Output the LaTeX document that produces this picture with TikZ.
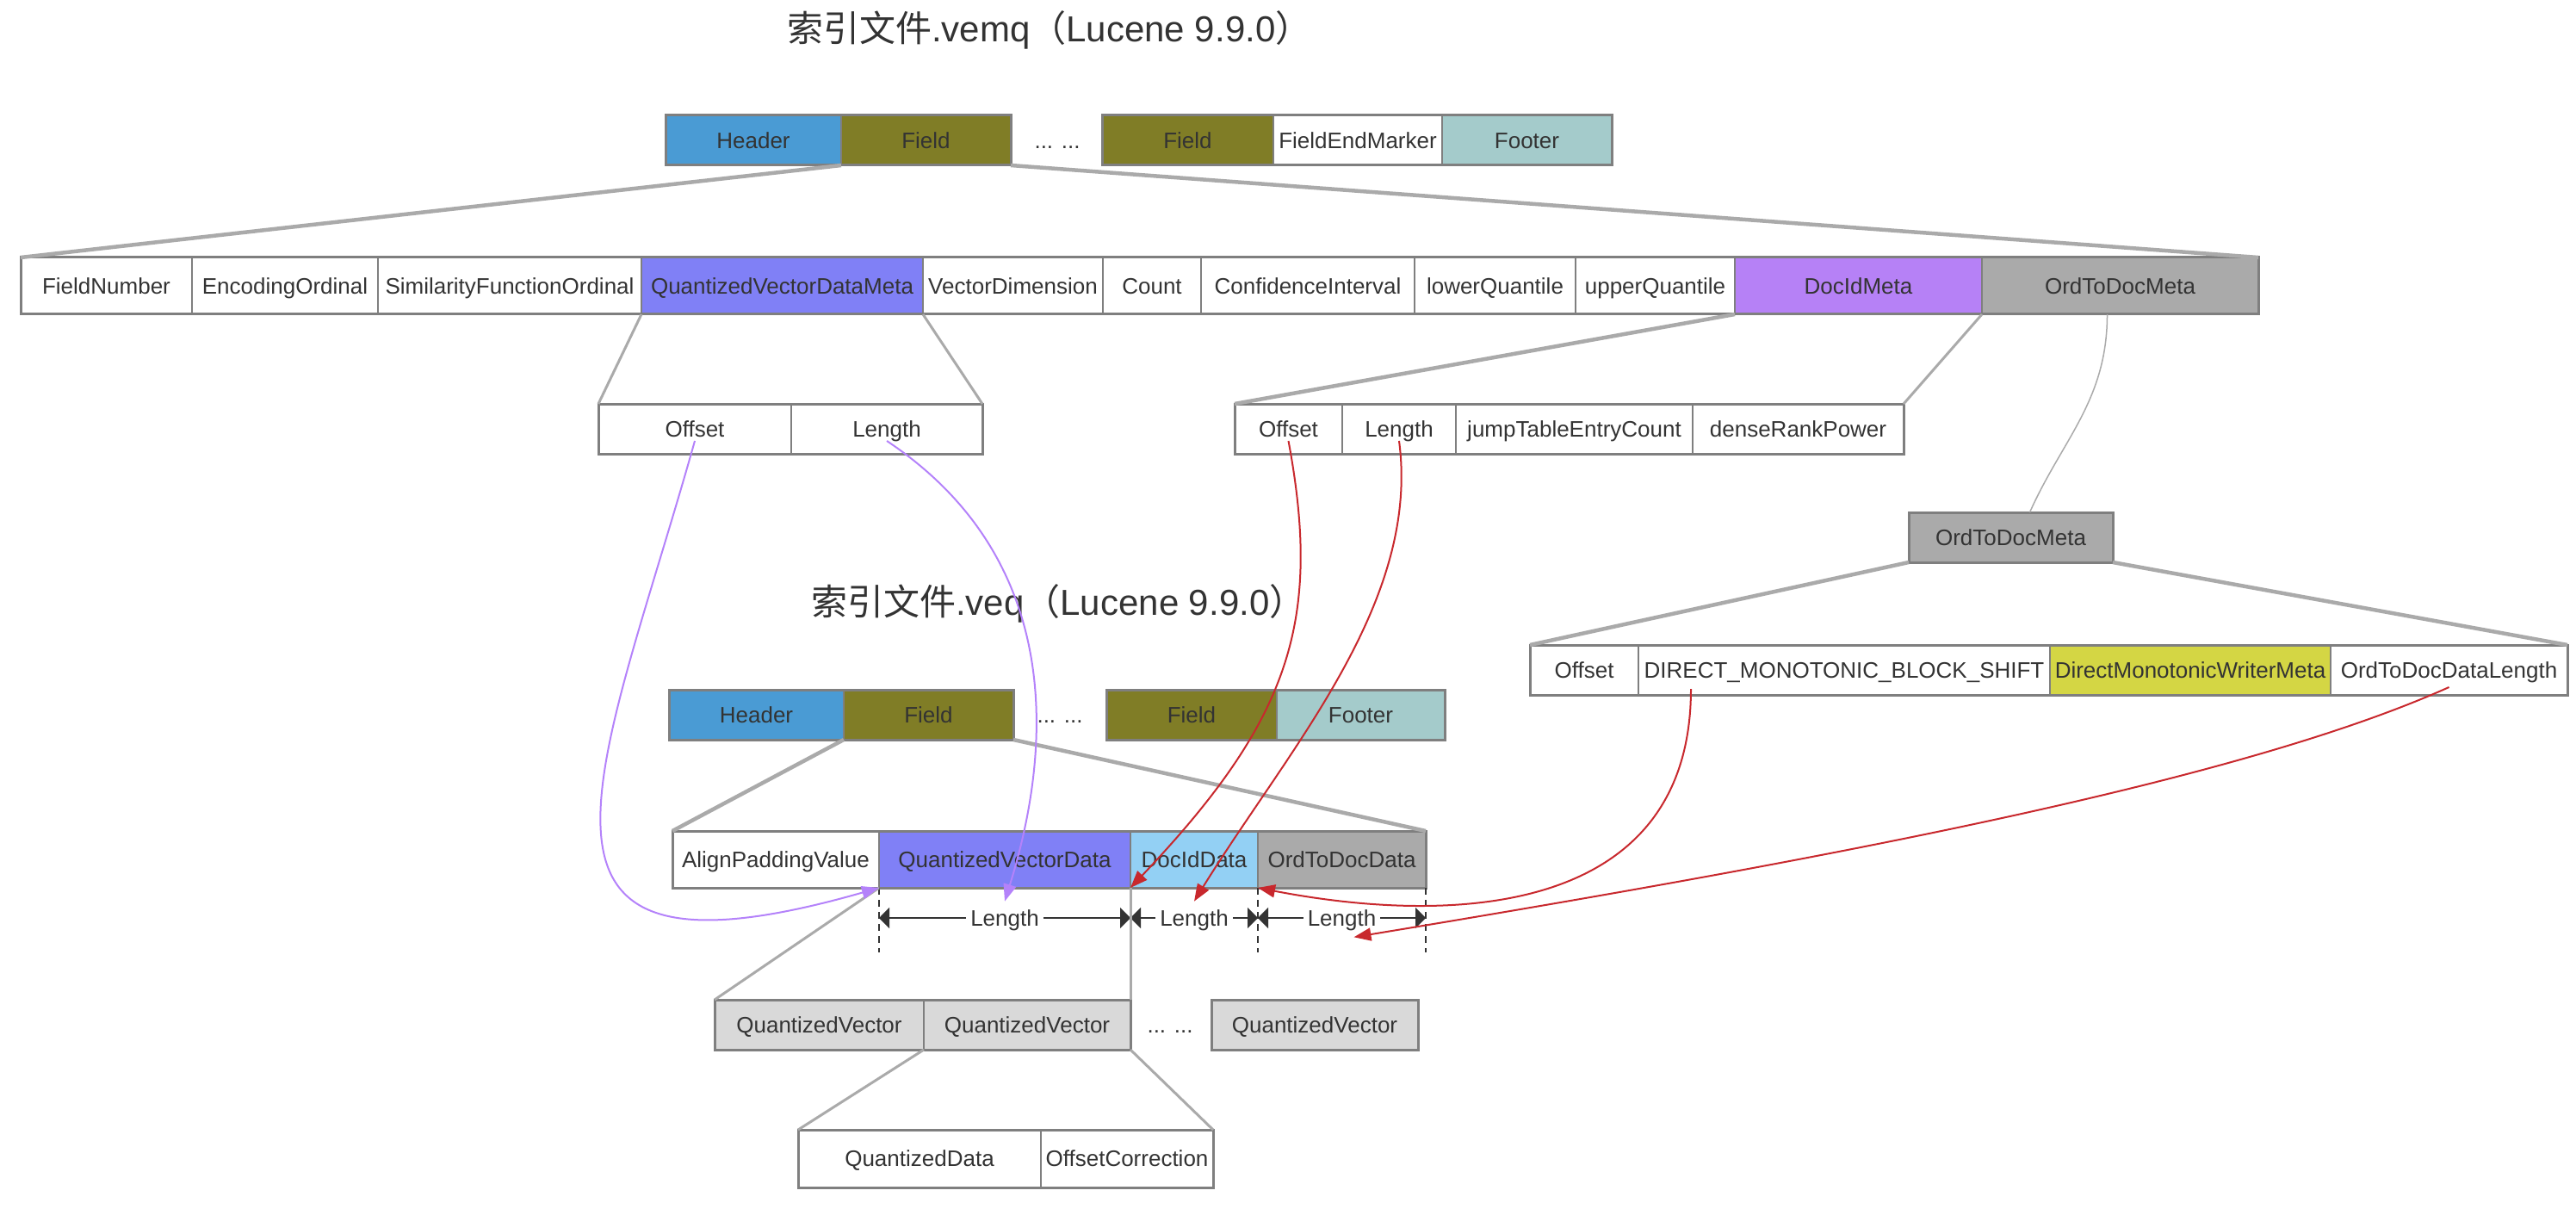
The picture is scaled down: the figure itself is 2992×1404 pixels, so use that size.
\documentclass[tikz,border=0pt]{standalone}
\usepackage{fontspec}
\setmainfont{Liberation Sans}
\newfontfamily\cjk{Noto Sans CJK SC}
\usepackage{tikz}
\usetikzlibrary{positioning, arrows.meta}

\definecolor{hdrblue}{HTML}{4A9BD4}
\definecolor{fieldolive}{HTML}{807D26}
\definecolor{footteal}{HTML}{A4CBCB}
\definecolor{vecblue}{HTML}{8080F6}
\definecolor{docpurple}{HTML}{B681F6}
\definecolor{ordgray}{HTML}{AAAAAA}
\definecolor{docsky}{HTML}{93D0F4}
\definecolor{monoyellow}{HTML}{D4D644}
\definecolor{qvgray}{HTML}{D9D9D9}
\definecolor{boxgray}{HTML}{7F7F7F}
\definecolor{fangray}{HTML}{AAAAAA}
\definecolor{txt}{HTML}{333333}
\definecolor{linkred}{HTML}{C8282D}
\definecolor{linkpurple}{HTML}{B482FA}
\newcommand{\cellfont}{\fontsize{26}{30}\selectfont}
\newcommand{\titlefont}{\fontsize{42}{48}\selectfont}

\begin{document}
\begin{tikzpicture}[x=1pt, y=-1pt,
    cell/.style={draw=boxgray, line width=1.5pt, inner sep=0pt, outer sep=0pt, text=txt, font=\cellfont, text height=18.6pt, text depth=0pt, anchor=west},
    rowframe/.style={draw=boxgray, line width=3pt},
    fanline/.style={draw=fangray, line width=4.5pt},
    fanthin/.style={draw=fangray, line width=3pt},
    link/.style={line width=2pt, -{Triangle[length=20pt,width=15pt]}},
    dimline/.style={draw=txt, line width=2pt, {Triangle[length=12pt,width=24pt]}-{Triangle[length=12pt,width=24pt]}},
    dimtick/.style={draw=txt, line width=1.5pt, dash pattern=on 8pt off 6pt},
    lenlabel/.style={fill=white, text=txt, font=\cellfont, text height=18.6pt, text depth=0pt, inner xsep=5pt, inner ysep=1pt},
    dots/.style={text=txt, font=\cellfont, text height=18.6pt, text depth=0pt},
    headline/.style={text=txt, font=\titlefont, anchor=west, inner sep=0pt}]
    \useasboundingbox (0,0) rectangle (2992,1404);

    % .vemq file
    \node[headline] (vmTitle) at (914,35) {{\cjk 索引文件}.vemq{\cjk （}Lucene 9.9.0{\cjk ）}};
    \node[cell, fill=hdrblue, minimum width=204pt, minimum height=58pt] (vmHead) at (773,163) {Header};
    \node[cell, fill=fieldolive, minimum width=197pt, minimum height=58pt, right=0pt of vmHead] (vmFieldA) {Field};
    \node[dots] (vmDots) at (1228,163) {... ...};
    \node[cell, fill=fieldolive, minimum width=199pt, minimum height=58pt] (vmFieldB) at (1280,163) {Field};
    \node[cell, minimum width=196pt, minimum height=58pt, right=0pt of vmFieldB] (vmEnd) {FieldEndMarker};
    \node[cell, fill=footteal, minimum width=197pt, minimum height=58pt, right=0pt of vmEnd] (vmFoot) {Footer};
    \draw[rowframe] (vmHead.north west) rectangle (vmFieldA.south east);
    \draw[rowframe] (vmFieldB.north west) rectangle (vmFoot.south east);

    % one Field of .vemq
    \node[cell, minimum width=199pt, minimum height=66pt] (fNum) at (24,332) {FieldNumber};
    \node[cell, minimum width=216pt, minimum height=66pt, right=0pt of fNum] (fEnc) {EncodingOrdinal};
    \node[cell, minimum width=306pt, minimum height=66pt, right=0pt of fEnc] (fSim) {SimilarityFunctionOrdinal};
    \node[cell, fill=vecblue, minimum width=327pt, minimum height=66pt, right=0pt of fSim] (qMeta) {QuantizedVectorDataMeta};
    \node[cell, minimum width=209pt, minimum height=66pt, right=0pt of qMeta] (fDim) {VectorDimension};
    \node[cell, minimum width=114pt, minimum height=66pt, right=0pt of fDim] (fCount) {Count};
    \node[cell, minimum width=248pt, minimum height=66pt, right=0pt of fCount] (fConf) {ConfidenceInterval};
    \node[cell, minimum width=187pt, minimum height=66pt, right=0pt of fConf] (fLow) {lowerQuantile};
    \node[cell, minimum width=185pt, minimum height=66pt, right=0pt of fLow] (fUp) {upperQuantile};
    \node[cell, fill=docpurple, minimum width=287pt, minimum height=66pt, right=0pt of fUp] (dMeta) {DocIdMeta};
    \node[cell, fill=ordgray, minimum width=321pt, minimum height=66pt, right=0pt of dMeta] (oMeta) {OrdToDocMeta};
    \draw[rowframe] (fNum.north west) rectangle (oMeta.south east);
    \draw[fanline] (vmFieldA.south west) -- (fNum.north west);
    \draw[fanline] (vmFieldA.south east) -- (oMeta.north east);

    % QuantizedVectorDataMeta
    \node[cell, minimum width=224pt, minimum height=58pt] (qOff) at (695,498) {Offset};
    \node[cell, minimum width=222pt, minimum height=58pt, right=0pt of qOff] (qLen) {Length};
    \draw[rowframe] (qOff.north west) rectangle (qLen.south east);
    \draw[fanthin] (qMeta.south west) -- (qOff.north west);
    \draw[fanthin] (qMeta.south east) -- (qLen.north east);

    % DocIdMeta
    \node[cell, minimum width=125pt, minimum height=58pt] (dOff) at (1434,498) {Offset};
    \node[cell, minimum width=132pt, minimum height=58pt, right=0pt of dOff] (dLen) {Length};
    \node[cell, minimum width=275pt, minimum height=58pt, right=0pt of dLen] (dJump) {jumpTableEntryCount};
    \node[cell, minimum width=245pt, minimum height=58pt, right=0pt of dJump] (dRank) {denseRankPower};
    \draw[rowframe] (dOff.north west) rectangle (dRank.south east);
    \draw[fanline] (dMeta.south west) -- (dOff.north west);
    \draw[fanthin] (dMeta.south east) -- (dRank.north east);

    % OrdToDocMeta
    \node[cell, fill=ordgray, minimum width=237pt, minimum height=58pt] (oBox) at (2217,624) {OrdToDocMeta};
    \draw[rowframe] (oBox.north west) rectangle (oBox.south east);
    \draw[fangray, line width=1.5pt] ([xshift=-15pt]oMeta.south) .. controls +(0,100) and +(38,-85) .. ([xshift=22pt]oBox.north);
    \node[cell, minimum width=126pt, minimum height=58pt] (oOff) at (1777,778) {Offset};
    \node[cell, minimum width=478pt, minimum height=58pt, right=0pt of oOff] (oShift) {DIRECT\_MONOTONIC\_BLOCK\_SHIFT};
    \node[cell, fill=monoyellow, minimum width=326pt, minimum height=58pt, right=0pt of oShift] (oWriter) {DirectMonotonicWriterMeta};
    \node[cell, minimum width=275pt, minimum height=58pt, right=0pt of oWriter] (oLen) {OrdToDocDataLength};
    \draw[rowframe] (oOff.north west) rectangle (oLen.south east);
    \draw[fanline] (oBox.south west) -- (oOff.north west);
    \draw[fanline] (oBox.south east) -- (oLen.north east);

    % .veq file
    \node[headline] (veTitle) at (942,701) {{\cjk 索引文件}.veq{\cjk （}Lucene 9.9.0{\cjk ）}};
    \node[cell, fill=hdrblue, minimum width=203pt, minimum height=58pt] (veHead) at (777,830) {Header};
    \node[cell, fill=fieldolive, minimum width=197pt, minimum height=58pt, right=0pt of veHead] (veFieldA) {Field};
    \node[dots] (veDots) at (1231,830) {... ...};
    \node[cell, fill=fieldolive, minimum width=198pt, minimum height=58pt] (veFieldB) at (1285,830) {Field};
    \node[cell, fill=footteal, minimum width=195pt, minimum height=58pt, right=0pt of veFieldB] (veFoot) {Footer};
    \draw[rowframe] (veHead.north west) rectangle (veFieldA.south east);
    \draw[rowframe] (veFieldB.north west) rectangle (veFoot.south east);

    % one Field of .veq
    \node[cell, minimum width=240pt, minimum height=66pt] (vePad) at (781,998) {AlignPaddingValue};
    \node[cell, fill=vecblue, minimum width=292pt, minimum height=66pt, right=0pt of vePad] (veQvd) {QuantizedVectorData};
    \node[cell, fill=docsky, minimum width=148pt, minimum height=66pt, right=0pt of veQvd] (veDoc) {DocIdData};
    \node[cell, fill=ordgray, minimum width=195pt, minimum height=66pt, right=0pt of veDoc] (veOtd) {OrdToDocData};
    \draw[rowframe] (vePad.north west) rectangle (veOtd.south east);
    \draw[fanline] (veFieldA.south west) -- (vePad.north west);
    \draw[fanline] (veFieldA.south east) -- (veOtd.north east);

    % Lengths
    \draw[dimtick] (veQvd.south west) -- ++(0,75);
    \draw[dimtick] (veDoc.south west) -- ++(0,75);
    \draw[dimtick] (veOtd.south west) -- ++(0,75);
    \draw[dimtick] (veOtd.south east) -- ++(0,75);
    \coordinate (dimA) at ([yshift=-35pt]veQvd.south west);
    \coordinate (dimB) at ([yshift=-35pt]veDoc.south west);
    \coordinate (dimC) at ([yshift=-35pt]veOtd.south west);
    \coordinate (dimD) at ([yshift=-35pt]veOtd.south east);
    \draw[dimline] (dimA) -- node[lenlabel] (lenA) {Length} (dimB);
    \draw[dimline] (dimB) -- node[lenlabel] (lenB) {Length} (dimC);
    \draw[dimline] (dimC) -- node[lenlabel] (lenC) {Length} (dimD);

    % QuantizedVectorData
    \node[cell, fill=qvgray, minimum width=243pt, minimum height=58pt] (qv1) at (830,1190) {QuantizedVector};
    \node[cell, fill=qvgray, minimum width=240pt, minimum height=58pt, right=0pt of qv1] (qv2) {QuantizedVector};
    \node[dots] (qvDots) at (1359,1190) {... ...};
    \node[cell, fill=qvgray, minimum width=240pt, minimum height=58pt] (qv3) at (1407,1190) {QuantizedVector};
    \draw[rowframe] (qv1.north west) rectangle (qv2.south east);
    \draw[rowframe] (qv3.north west) rectangle (qv3.south east);
    \draw[fanthin] (veQvd.south west) -- (qv1.north west);
    \draw[fanthin] (veQvd.south east) -- (qv2.north east);

    % QuantizedVector
    \node[cell, minimum width=282pt, minimum height=67pt] (qData) at (927,1345.5) {QuantizedData};
    \node[cell, minimum width=200pt, minimum height=67pt, right=0pt of qData] (qCorr) {OffsetCorrection};
    \draw[rowframe] (qData.north west) rectangle (qCorr.south east);
    \draw[fanthin] (qv2.south west) -- (qData.north west);
    \draw[fanthin] (qv2.south east) -- (qCorr.north east);

    % where the meta points into .veq
    \draw[link, linkpurple] ([yshift=-14pt]qOff.center) .. controls +(-109,388) and +(-461,132) .. (veQvd.south west);
    \draw[link, linkpurple] ([yshift=-14pt]qLen.center) .. controls +(222,148) and +(46,-148) .. ([yshift=8pt]lenA.north);
    \draw[link, linkred] ([yshift=-14pt]dOff.center) .. controls +(39,209) and +(186,-196) .. (veDoc.south west);
    \draw[link, linkred] ([yshift=-14pt]dLen.center) .. controls +(25,188) and +(110,-178) .. ([yshift=8pt]lenB.north);
    \draw[link, linkred] ([xshift=-178pt,yshift=-22pt]oShift.center) .. controls +(0,260) and +(234,45) .. (veOtd.south west);
    \draw[link, linkred] ([yshift=-20pt]oLen.center) .. controls +(-249,112) and +(528,-87) .. ([xshift=14pt,yshift=-11pt]lenC.south);
\end{tikzpicture}
\end{document}
